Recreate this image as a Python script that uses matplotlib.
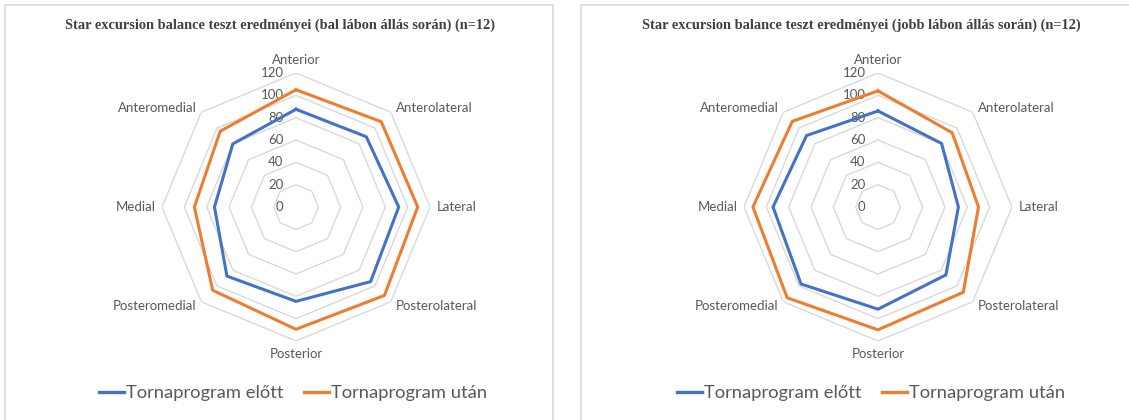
import numpy as np
import matplotlib
matplotlib.use('Agg')
import matplotlib.pyplot as plt
from matplotlib.patches import Rectangle
from matplotlib.lines import Line2D

# data
directions = ['Anterior', 'Anterolateral', 'Lateral', 'Posterolateral',
              'Posterior', 'Posteromedial', 'Medial', 'Anteromedial']
ticks = [0, 20, 40, 60, 80, 100, 120]

left_before = [87.5, 89, 92, 94.5, 84.5, 87.5, 73, 80]
left_after = [105, 108, 109, 112, 109.5, 105.5, 91, 96]

right_before = [86, 80.5, 72, 86, 91.5, 97.5, 94, 90.5]
right_after = [104, 94, 90, 108, 110, 115, 112, 108.5]

titles = ['Star excursion balance teszt eredményei (bal lábon állás során) (n=12)',
          'Star excursion balance teszt eredményei (jobb lábon állás során) (n=12)']
series_names = ['Tornaprogram előtt', 'Tornaprogram után']

blue = '#4472C4'
orange = '#ED7D31'
grid_c = '#D9D9D9'
text_c = '#595959'

W, H = 1129, 420
fig = plt.figure(figsize=(W / 100, H / 100), dpi=100)
plt.rcParams['font.family'] = ['Lato', 'DejaVu Sans']

# panel borders (in pixels)
fig.patches.append(Rectangle((5 / W, -0.1), 548 / W, 1.1 - 5 / H, transform=fig.transFigure,
                             fill=False, edgecolor=grid_c, lw=1.2))
fig.patches.append(Rectangle((581 / W, -0.1), 0.6, 1.1 - 5 / H, transform=fig.transFigure,
                             fill=False, edgecolor=grid_c, lw=1.2))

theta = np.linspace(0, 2 * np.pi, len(directions), endpoint=False)
theta_c = np.append(theta, theta[0])

R = 134  # pixel radius of 120 ring
cy = 207
panels = [(296, 280, 293, left_before, left_after, titles[0]),
          (878, 861, 871, right_before, right_after, titles[1])]

for cx, tx, lx, before, after, title in panels:
    ax = fig.add_axes([(cx - R) / W, (H - cy - R) / H, 2 * R / W, 2 * R / H],
                      projection='polar')
    ax.set_theta_offset(np.pi / 2)
    ax.set_theta_direction(-1)
    ax.set_ylim(0, 120)
    ax.set_xticks([])
    ax.set_yticks([])
    ax.grid(False)
    ax.spines['polar'].set_visible(False)
    ax.patch.set_alpha(0)

    # octagon grid rings
    for t in ticks[1:]:
        ax.plot(theta_c, [t] * len(theta_c), color=grid_c, lw=1.0, zorder=1)
        ax.annotate(str(t), (0, t), xytext=(-9, 0), textcoords='offset points',
                    ha='right', va='center', fontsize=9.5, color=text_c)
    ax.annotate('0', (0, 0), xytext=(-9, 0), textcoords='offset points',
                ha='right', va='center', fontsize=9.5, color=text_c)

    ax.plot(theta_c, before + before[:1], color=blue, lw=2.2, zorder=3)
    ax.plot(theta_c, after + after[:1], color=orange, lw=2.2, zorder=3)

    # category labels
    for ang, name in zip(theta, directions):
        s = np.sin(ang)
        c = np.cos(ang)
        ha = 'center' if abs(s) < 0.01 else ('left' if s > 0 else 'right')
        if abs(s) < 0.01:
            va = 'bottom' if c > 0 else 'top'
        else:
            va = 'center'
        ax.text(ang, 126, name, ha=ha, va=va, fontsize=9.5, color=text_c)

    fig.text(tx / W, 1 - 25 / H, title, ha='center', va='center', fontsize=10.4,
             fontweight='bold', family='Liberation Serif', color='#404040')

    handles = [Line2D([], [], color=blue, lw=2.4), Line2D([], [], color=orange, lw=2.4)]
    fig.legend(handles, series_names, loc='center', bbox_to_anchor=(lx / W, 1 - 393 / H),
               ncol=2, frameon=False, fontsize=13.2, labelcolor=text_c,
               handlelength=1.4, handletextpad=0.1, columnspacing=1.1)

fig.savefig('out.png', dpi=100)
